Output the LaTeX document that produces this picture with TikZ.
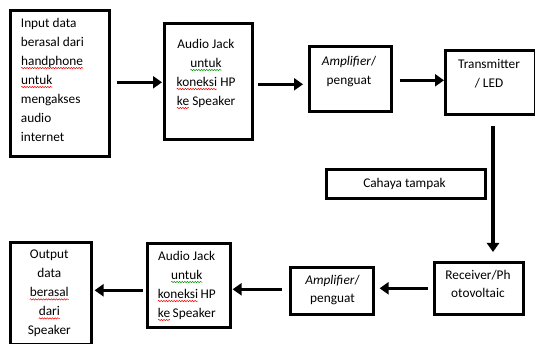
\documentclass[tikz,border=0pt]{standalone}
\usepackage{fontspec}
\setmainfont{Carlito}
\usetikzlibrary{arrows.meta,decorations.pathmorphing}
\newcommand\squig[2]{\pgfinterruptpicture\tikz[baseline=(w.base)]{\node[inner sep=0pt, outer sep=0pt, anchor=base] (w) {#2};
  \draw[#1, line width=0.5pt, decorate, decoration={snake, amplitude=0.7pt, segment length=2.6pt}] ([yshift=-2.6pt]w.base west) -- ([yshift=-2.6pt]w.base east);}\endpgfinterruptpicture}
\newcommand\rw[1]{\squig{red}{#1}}
\newcommand\gw[1]{\squig{green!60!black}{#1}}
\begin{document}
\begin{tikzpicture}[x=1pt,y=-1pt,
  box/.style={draw, line width=2.6pt, inner sep=0pt, anchor=north west},
  txt/.style={inner sep=0pt, font=\fontsize{13.3}{19}\selectfont, align=center, anchor=north},
  arr/.style={line width=3.2pt, -{Triangle[length=9pt,width=12pt]}}]
\useasboundingbox[fill=white] (0,0) rectangle (535,344);
% boxes
\node[box, minimum width=99pt, minimum height=146pt] (b1) at (9,9) {};
\node[box, minimum width=88pt, minimum height=116pt] (b2) at (163,22) {};
\node[box, minimum width=82pt, minimum height=65pt] (b3) at (308,45) {};
\node[box, minimum width=90pt, minimum height=64pt] (b4) at (444,49) {};
\node[box, minimum width=159pt, minimum height=29pt] (c) at (325,168) {};
\node[box, minimum width=89pt, minimum height=52pt] (r) at (433,261) {};
\node[box, minimum width=83pt, minimum height=47pt] (a2) at (289,266) {};
\node[box, minimum width=83pt, minimum height=84pt] (j2) at (146,242) {};
\node[box, minimum width=81pt, minimum height=102pt] (o) at (9,241) {};
% texts
\node[txt, anchor=north west, align=left] (t1) at (20.7,18) {Input data\\berasal dari\\\rw{handphone}\\\rw{untuk}\\mengakses\\audio\\internet};
\node[txt] (t2) at (206,39) {Audio Jack\\\gw{untuk}\\\rw{koneksi} HP\\\rw{ke} Speaker};
\node[txt] (t3) at (349,56) {\textit{Amplifier}/\\penguat};
\node[txt] (t4) at (489,59) {Transmitter\\/ LED};
\node[txt] (tc) at (404.5,178) {Cahaya tampak};
\node[txt, font=\fontsize{13.3}{18}\selectfont] (tr) at (478,270) {Receiver/Ph\\otovoltaic};
\node[txt, font=\fontsize{13.3}{18}\selectfont] (ta) at (332.5,275) {\textit{Amplifier}/\\penguat};
\node[txt] (tj) at (186.7,251) {Audio Jack\\\gw{untuk}\\\rw{koneksi}\,HP\\\rw{ke}\,Speaker};
\node[txt] (to) at (49.3,250) {Output\\data\\\rw{berasal}\\\rw{dari}\\Speaker};
% connectors
\coordinate (v) at (493,0);
\draw[arr, shorten <=6pt, shorten >=1pt] ([yshift=1pt]b1.east) -- ([yshift=1pt]b1.east -| b2.west);
\draw[arr, shorten <=4pt, shorten >=5pt] ([yshift=-3pt]b2.east) -- ([yshift=-3pt]b2.east -| b3.west);
\draw[arr, shorten <=7pt] ([yshift=-1.5pt]b3.east) -- ([yshift=-1.5pt]b3.east -| b4.west);
\draw[arr, shorten <=10pt, shorten >=9pt] (b4.south -| v) -- (r.north -| v);
\draw[arr, shorten <=5pt, shorten >=5pt] (r.west) -- (r.west -| a2.east);
\draw[arr, shorten <=7pt, shorten >=1pt] ([yshift=1.5pt]a2.west) -- ([yshift=1.5pt]a2.west -| j2.east);
\draw[arr, shorten <=3pt, shorten >=2pt] ([yshift=-5pt]j2.west) -- ([yshift=-5pt]j2.west -| o.east);
\end{tikzpicture}
\end{document}
